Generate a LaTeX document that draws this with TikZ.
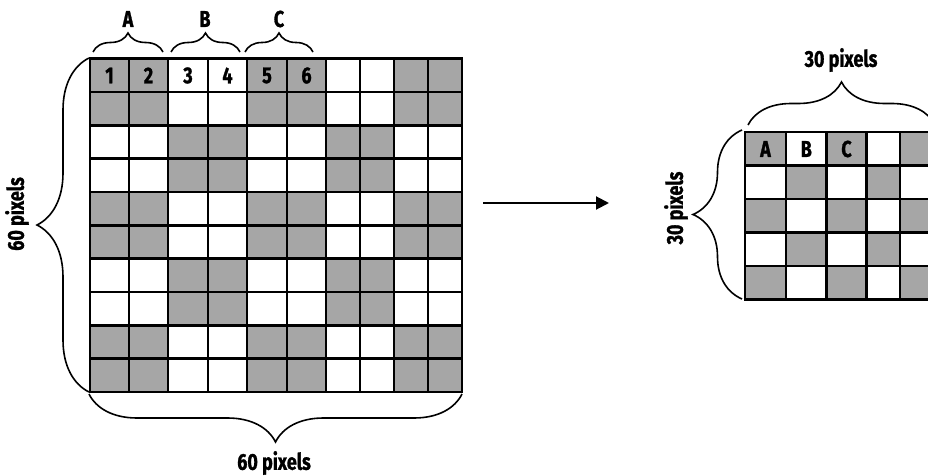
\documentclass[tikz,border=0pt]{standalone}
\usepackage{fontspec}
\setmainfont{Fira Sans}[FakeStretch=0.78, FakeBold=1.2]
\usetikzlibrary{decorations.pathreplacing,arrows.meta}

\tikzset{
  cellgray/.style={fill=black!35},
  gridline/.style={line width=2.6pt, line cap=rect},
  bracelabel/.style={font=\fontsize{23}{26}\selectfont\bfseries, inner sep=0pt},
  celllabel/.style={font=\fontsize{23}{26}\selectfont\bfseries, inner sep=0pt},
  bigbrace/.style={decorate, decoration={brace, amplitude=#1}, line width=1.6pt},
}

\begin{document}
\begin{tikzpicture}[x=1pt, y=-1pt]
  \useasboundingbox (0,0) rectangle (928,476);
  % big grid
  \foreach \xa/\xb [count=\c from 0] in {90/129,129/168,168/208,208/247,247/287,287/326,326/360,360/394,394/428,428/462}
    \foreach \r in {0,...,9} {
      \pgfmathtruncatemacro{\shade}{mod(floor(\r/2)+floor(\c/2),2)}
      \ifnum\shade=0 \fill[cellgray] (\xa,{58.5+33.35*\r}) rectangle (\xb,{58.5+33.35*(\r+1)});\fi
    }
  \foreach \x in {90,129,168,208,247,287,326,360,394,428,462}
    \draw[gridline] (\x,58.5) -- (\x,392);
  \foreach \r in {0,...,10}
    \draw[gridline] (90,{58.5+33.35*\r}) -- (462,{58.5+33.35*\r});
  \foreach \x/\n [count=\i] in {109.5/1,148.5/2,188/3,227.5/4,267/5,306.5/6}
    \node[celllabel] (cell\i) at (\x,75.5) {\n};
  % small grid
  \foreach \xa/\xb [count=\c from 0] in {745/786,786/826.5,826.5/866.5,866.5/900,900/933}
    \foreach \r in {0,...,4} {
      \pgfmathtruncatemacro{\shade}{mod(\r+\c,2)}
      \ifnum\shade=0 \fill[cellgray] (\xa,{132+33.5*\r}) rectangle (\xb,{132+33.5*(\r+1)});\fi
    }
  \foreach \x in {745,786,826.5,866.5,900,933}
    \draw[gridline] (\x,132) -- (\x,299.5);
  \foreach \r in {0,...,5}
    \draw[gridline] (745,{132+33.5*\r}) -- (933,{132+33.5*\r});
  \node[celllabel] (smallA) at (765.5,149) {A};
  \node[celllabel] (smallB) at (806.3,149) {B};
  \node[celllabel] (smallC) at (846.5,149) {C};
  % braces
  \coordinate (A1) at (93,52);   \coordinate (A2) at (163,52);
  \coordinate (B1) at (171,52);  \coordinate (B2) at (240,52);
  \coordinate (C1) at (245,52);  \coordinate (C2) at (313,52);
  \coordinate (L1) at (89,392);  \coordinate (L2) at (89,58);
  \coordinate (D1) at (462,394); \coordinate (D2) at (89,394);
  \coordinate (T1) at (748,125); \coordinate (T2) at (935,125);
  \coordinate (S1) at (742,299); \coordinate (S2) at (742,130);
  \draw[bigbrace=19pt] (A1) -- (A2);
  \draw[bigbrace=19pt] (B1) -- (B2);
  \draw[bigbrace=19pt] (C1) -- (C2);
  \draw[bigbrace=52pt] (L1) -- (L2);
  \draw[bigbrace=48pt] (D1) -- (D2);
  \draw[bigbrace=43pt] (T1) -- (T2);
  \draw[bigbrace=49pt] (S1) -- (S2);
  \node[bracelabel] (labA) at (128,19) {A};
  \node[bracelabel] (labB) at (205,19) {B};
  \node[bracelabel] (labC) at (279,19) {C};
  \node[bracelabel, rotate=90] (leftsize) at (17,214) {60 pixels};
  \node[bracelabel] (bottomsize) at (274,463) {60 pixels};
  \node[bracelabel] (topsize) at (841,60) {30 pixels};
  \node[bracelabel, rotate=90] (sidesize) at (676,208) {30 pixels};
  % arrow
  \coordinate (from) at (483,203);
  \coordinate (to) at (609,203);
  \draw[line width=2pt, -{Triangle[length=13pt, width=13pt]}] (from) -- (to);
\end{tikzpicture}
\end{document}
